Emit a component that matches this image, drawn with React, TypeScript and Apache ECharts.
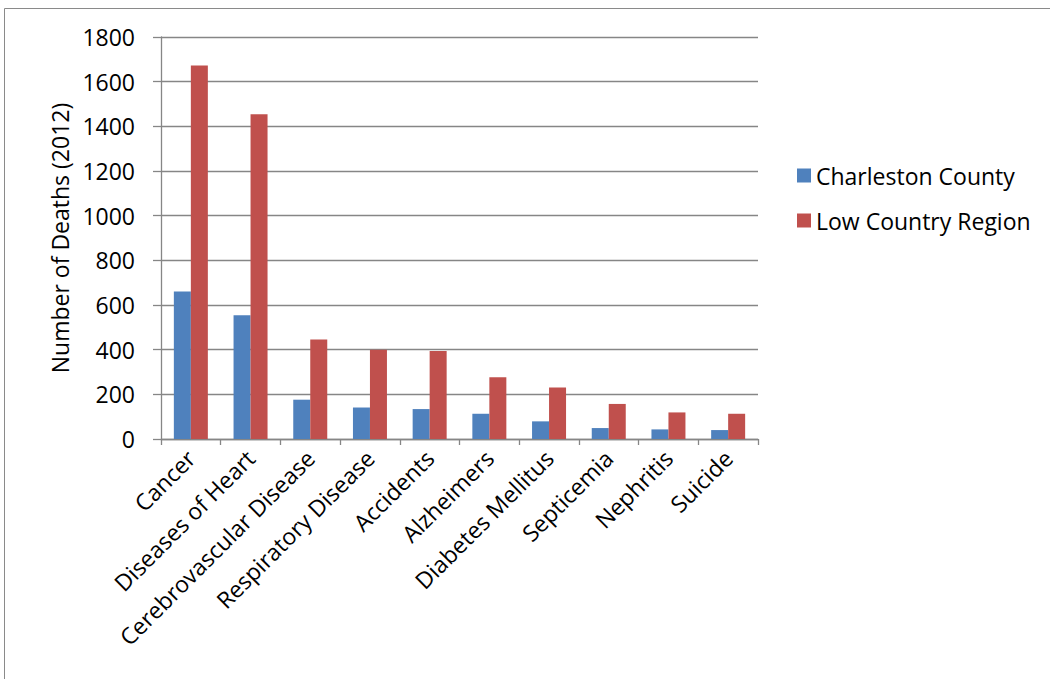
import React, { useEffect, useRef } from "react";
import * as echarts from "echarts";

const categories = [
  "Cancer",
  "Diseases of Heart",
  "Cerebrovascular Disease",
  "Respiratory Disease",
  "Accidents",
  "Alzheimers",
  "Diabetes Mellitus",
  "Septicemia",
  "Nephritis",
  "Suicide",
];
const charlestonCounty = [660, 554, 176, 141, 134, 113, 79, 49, 43, 40];
const lowCountryRegion = [1672, 1454, 445, 400, 394, 276, 231, 157, 119, 113];
const yAxisTitle = "Number of Deaths (2012)";
const seriesNames = ["Charleston County", "Low Country Region"];

const FONT = "'Open Sans', sans-serif";

export default function App() {
  const ref = useRef<HTMLDivElement>(null);
  useEffect(() => {
    if (!ref.current) return;
    const chart = echarts.init(ref.current, null, { renderer: "svg" });
    chart.setOption({
      animation: false,
      backgroundColor: "#ffffff",
      textStyle: { fontFamily: FONT },
      graphic: [
        {
          type: "rect",
          shape: { x: 4.5, y: 8.5, width: 1100, height: 700 },
          style: { fill: "none", stroke: "#8a8a8a", lineWidth: 1 },
          silent: true,
        },
      ],
      grid: { left: 161, right: 292, top: 37, bottom: 240, containLabel: false },
      legend: {
        orient: "vertical",
        left: 792,
        top: 159,
        itemWidth: 14,
        itemHeight: 14,
        itemGap: 22,
        icon: "rect",
        textStyle: { fontFamily: FONT, fontSize: 23, color: "#000" },
        data: seriesNames,
      },
      xAxis: {
        type: "category",
        data: categories,
        axisLine: { lineStyle: { color: "#868686", width: 1.3 } },
        axisTick: { show: true, length: 6, lineStyle: { color: "#868686", width: 1.3 } },
        axisLabel: {
          rotate: 45,
          interval: 0,
          margin: 15,
          fontFamily: FONT,
          fontSize: 23,
          color: "#000",
        },
        splitLine: { show: false },
      },
      yAxis: {
        type: "value",
        min: 0,
        max: 1800,
        interval: 200,
        name: yAxisTitle,
        nameLocation: "middle",
        nameGap: 81,
        nameRotate: 90,
        nameTextStyle: { fontFamily: FONT, fontSize: 23, color: "#000" },
        axisLine: { show: true, lineStyle: { color: "#868686", width: 1.3 } },
        axisTick: { show: true, length: 8, lineStyle: { color: "#868686", width: 1.3 } },
        axisLabel: {
          margin: 26,
          fontFamily: FONT,
          fontSize: 23,
          color: "#000",
          formatter: (v: number) => String(v),
        },
        splitLine: { show: true, lineStyle: { color: "#868686", width: 1.3 } },
      },
      series: [
        {
          name: seriesNames[0],
          type: "bar",
          data: charlestonCounty,
          barWidth: 17,
          barGap: "0%",
          itemStyle: { color: "#4F81BD" },
        },
        {
          name: seriesNames[1],
          type: "bar",
          data: lowCountryRegion,
          barWidth: 17,
          barGap: "0%",
          itemStyle: { color: "#C0504D" },
        },
      ],
    });
    return () => chart.dispose();
  }, []);
  return (
    <div
      ref={ref}
      style={{ position: "absolute", left: 0, top: 0, width: 1050, height: 679 }}
    />
  );
}
